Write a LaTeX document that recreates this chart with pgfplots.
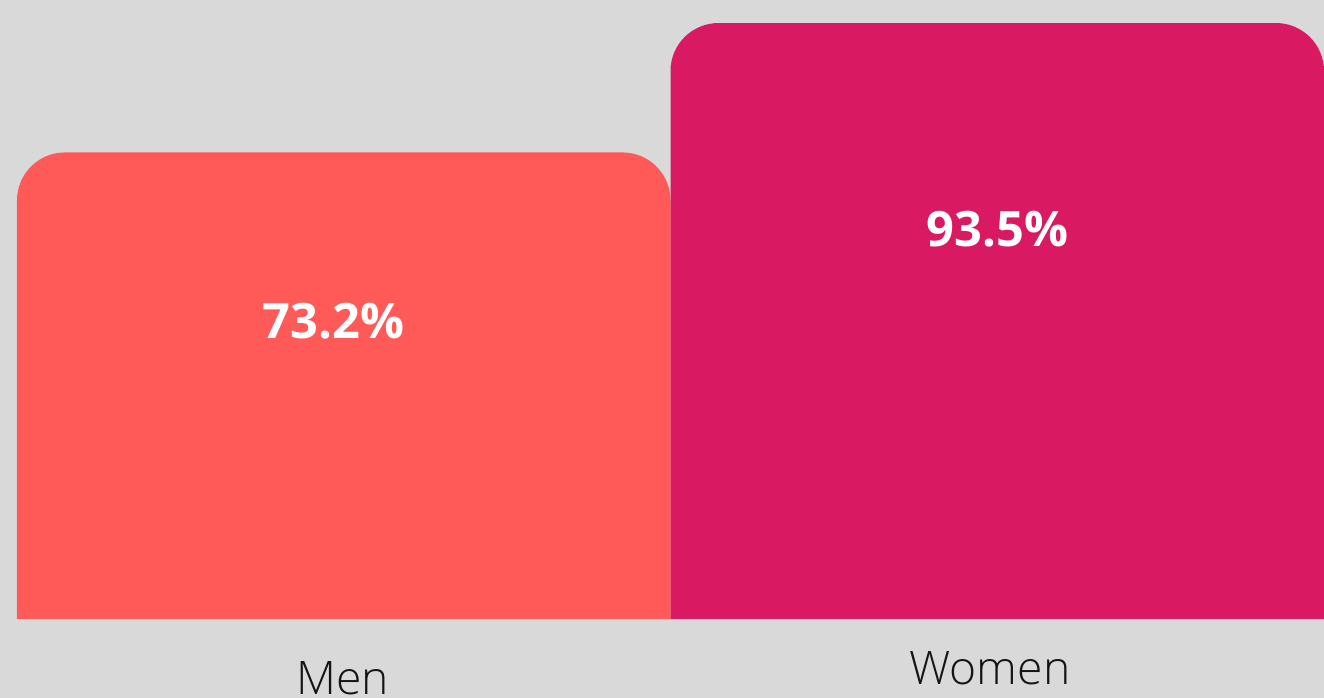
\documentclass[border=0pt]{standalone}
\usepackage{pgfplots}
\pgfplotsset{compat=1.18}
\usepackage{fontspec}
\setmainfont{Open Sans}
\IfFontExistsTF{Open Sans Light}{\newfontfamily\lightfont{Open Sans Light}}{\newcommand\lightfont{\normalfont}}
\definecolor{bgcol}{HTML}{D9D9D9}
\definecolor{mencol}{HTML}{FF5A57}
\definecolor{womencol}{HTML}{D91A63}
\begin{document}
\begin{tikzpicture}
\fill[bgcol] (0,0) rectangle (662pt,348.5pt);
\useasboundingbox (0,0) rectangle (662pt,348.5pt);
\begin{axis}[
  at={(8.5pt,0pt)}, anchor=south west,
  scale only axis, width=653.5pt, height=348.5pt,
  xmin=-0.5, xmax=1.5, ymin=0, ymax=109.35,
  axis lines=none, ticks=none,
]
% values in percent; the bars are lifted by 12.237 so that their base lies
% below the visible band and their lower corners stay square
\addplot[ybar, bar shift=0pt, bar width=1, fill=mencol, draw=none, rounded corners=24pt]
  table[x=x, y expr=\thisrow{y}+12.237] {
x y
0 73.2
};
\addplot[ybar, bar shift=0pt, bar width=1, fill=womencol, draw=none, rounded corners=24pt]
  table[x=x, y expr=\thisrow{y}+12.237] {
x y
1 93.5
};
\node[text=white, font=\bfseries\fontsize{24.4pt}{30pt}\selectfont, inner sep=0pt] at (axis cs:-0.016,58.91) {73.2\%};
\node[text=white, font=\bfseries\fontsize{24.4pt}{30pt}\selectfont, inner sep=0pt] at (axis cs:1,73.34) {93.5\%};
\end{axis}
\fill[bgcol] (-5pt,-5pt) rectangle (667pt,39pt);
\node[anchor=base, inner sep=0pt, text=black!92, font=\lightfont\fontsize{23.1pt}{28pt}\selectfont] at (171.25pt,1.5pt) {Men};
\node[anchor=base, inner sep=0pt, text=black!92, font=\lightfont\fontsize{23.1pt}{28pt}\selectfont] at (495pt,6pt) {Women};
\end{tikzpicture}
\end{document}
